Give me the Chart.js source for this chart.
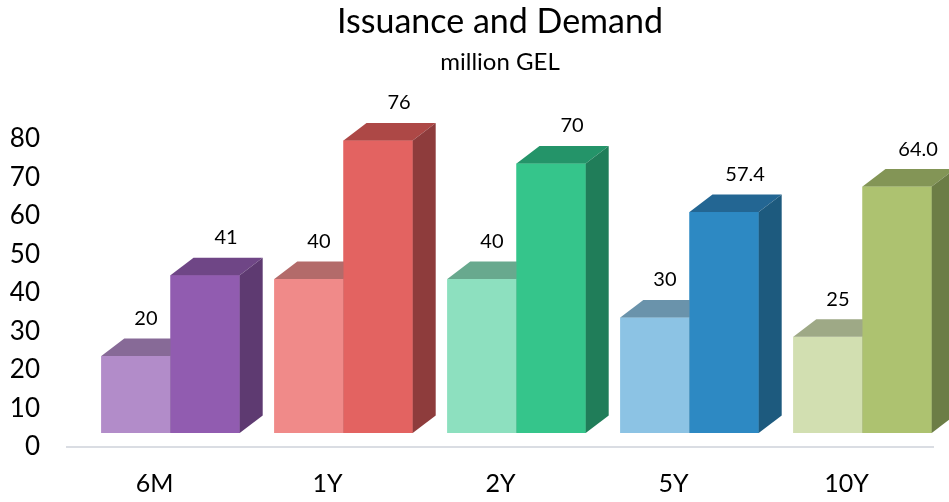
<!DOCTYPE html>
<html>
<head>
<meta charset="utf-8">
<script src="https://cdn.jsdelivr.net/npm/chart.js@4"></script>
<style>
  html, body { margin: 0; padding: 0; background: #fff; overflow: hidden; }
  #wrap { width: 949px; height: 502px; }
</style>
</head>
<body>
<div id="wrap"><canvas id="chart"></canvas></div>
<script>
const categories = ["6M", "1Y", "2Y", "5Y", "10Y"];
const issuance = [20, 40, 40, 30, 25];
const demand = [41, 76, 70, 57.4, 64.0];
const demandLabels = ["41", "76", "70", "57.4", "64.0"];
const yTicks = [0, 10, 20, 30, 40, 50, 60, 70, 80];

// front / top / side shades per category
const issuanceColors = ["#b28cc9", "#f08a89", "#8de0bf", "#8cc3e4", "#d2dfb1"];
const issuanceTops = ["#876a97", "#b36b6a", "#68a98e", "#6a93ab", "#9ea986"];
const demandColors = ["#915cb0", "#e36361", "#35c58b", "#2d89c3", "#adc270"];
const demandTops = ["#6f4686", "#ad4846", "#249469", "#236693", "#839556"];
const demandSides = ["#5e3a71", "#8e3c3c", "#207d59", "#1d5a7e", "#6c7d46"];

const DX = 23, DY = -17.5;
const FONT = "Lato, 'Open Sans', sans-serif";

// draws each bar as a box (front, top, side), issuance first so demand sits on top
const bars3d = {
  id: "bars3d",
  beforeDatasetsDraw(chart) {
    const ctx = chart.ctx;
    const y0 = chart.scales.y.getPixelForValue(0) + 14;
    ctx.save();
    ctx.strokeStyle = "#dadde3";
    ctx.lineWidth = 2;
    ctx.beginPath();
    ctx.moveTo(66, y0);
    ctx.lineTo(934, y0);
    ctx.stroke();
    ctx.restore();
  },
  afterDatasetsDraw(chart) {
    const ctx = chart.ctx;
    ctx.save();
    [0, 1].forEach((d) => {
      const isDemand = d === 1;
      chart.getDatasetMeta(d).data.forEach((bar, i) => {
        const l = bar.x - bar.width / 2, r = bar.x + bar.width / 2;
        const t = bar.y, b = bar.base;
        ctx.fillStyle = isDemand ? demandColors[i] : issuanceColors[i];
        ctx.fillRect(l, t, r - l, b - t);
        // top face
        ctx.fillStyle = isDemand ? demandTops[i] : issuanceTops[i];
        ctx.beginPath();
        ctx.moveTo(l, t);
        ctx.lineTo(l + DX, t + DY);
        ctx.lineTo(r + DX, t + DY);
        ctx.lineTo(r, t);
        ctx.closePath();
        ctx.fill();
        // side face
        ctx.fillStyle = isDemand ? demandSides[i] : issuanceTops[i];
        ctx.beginPath();
        ctx.moveTo(r, t);
        ctx.lineTo(r + DX, t + DY);
        ctx.lineTo(r + DX, b + DY);
        ctx.lineTo(r, b);
        ctx.closePath();
        ctx.fill();
      });
    });
    ctx.restore();
  },
  afterDraw(chart) {
    const ctx = chart.ctx;
    ctx.save();
    ctx.fillStyle = "#000";
    ctx.textAlign = "center";
    ctx.textBaseline = "middle";
    ctx.font = "34px " + FONT;
    ctx.fillText("Issuance and Demand", 500, 22);
    ctx.font = "24px " + FONT;
    ctx.fillText("million GEL", 500, 62);
    ctx.font = "20px " + FONT;
    [0, 1].forEach((d) => {
      chart.getDatasetMeta(d).data.forEach((bar, i) => {
        const txt = d === 1 ? demandLabels[i] : String(issuance[i]);
        const shift = d === 1 ? 21 : 10;
        ctx.fillText(txt, bar.x + shift, bar.y + DY - 20);
      });
    });
    ctx.restore();
  }
};

new Chart(document.getElementById("chart"), {
  type: "bar",
  data: {
    labels: categories,
    datasets: [
      { label: "Issuance", data: issuance, backgroundColor: issuanceColors, borderWidth: 0 },
      { label: "Demand", data: demand, backgroundColor: demandColors, borderWidth: 0 }
    ]
  },
  options: {
    responsive: true,
    maintainAspectRatio: false,
    animation: false,
    layout: { padding: { top: 125, left: 0, right: 0, bottom: 3 } },
    plugins: {
      legend: { display: false },
      tooltip: { enabled: false }
    },
    datasets: {
      bar: { categoryPercentage: 0.8, barPercentage: 1 }
    },
    scales: {
      x: {
        afterFit: (s) => { s.height = 66; },
        grid: { display: false, drawTicks: false },
        border: { display: false },
        ticks: {
          color: "#000",
          font: { family: FONT, size: 25 },
          padding: 36,
          labelOffset: -16,
          maxRotation: 0
        }
      },
      y: {
        min: 0,
        max: 80,
        afterFit: (s) => { s.width = 84; },
        afterBuildTicks: (s) => { s.ticks = yTicks.map((v) => ({ value: v })); },
        grid: { display: false, drawTicks: false },
        border: { display: false },
        ticks: {
          color: "#000",
          font: { family: FONT, size: 26 },
          padding: 44,
          labelOffset: 14
        }
      }
    }
  },
  plugins: [bars3d]
});
</script>
</body>
</html>
